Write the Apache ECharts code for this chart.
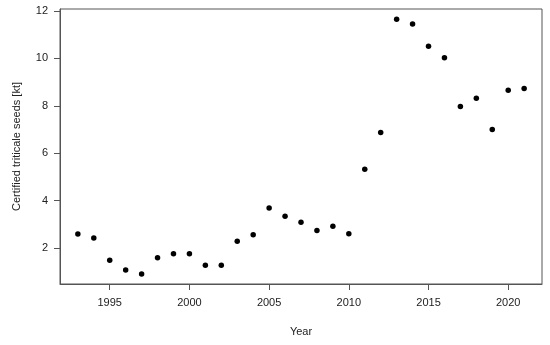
<!DOCTYPE html>
<html>
<head>
<meta charset="utf-8">
<script src="https://cdn.jsdelivr.net/npm/echarts@6/dist/echarts.min.js"></script>
<style>
  html, body { margin: 0; padding: 0; background: #fff; }
  #chart { width: 550px; height: 345px; }
</style>
</head>
<body>
<div id="chart"></div>
<script>
// data
var years = [1993, 1994, 1995, 1996, 1997, 1998, 1999, 2000, 2001, 2002,
             2003, 2004, 2005, 2006, 2007, 2008, 2009, 2010, 2011, 2012,
             2013, 2014, 2015, 2016, 2017, 2018, 2019, 2020, 2021];
var seeds = [2.60, 2.43, 1.49, 1.08, 0.91, 1.60, 1.77, 1.77, 1.28, 1.28,
             2.29, 2.57, 3.69, 3.35, 3.09, 2.75, 2.92, 2.61, 5.33, 6.88,
             11.65, 11.45, 10.51, 10.03, 7.97, 8.32, 7.00, 8.66, 8.73];
var xTicks = [1995, 2000, 2005, 2010, 2015, 2020];
var yTicks = [2, 4, 6, 8, 10, 12];

var points = years.map(function (y, i) { return [y, seeds[i]]; });

var chart = echarts.init(document.getElementById('chart'));
var txt = '#222';
var axisCol = '#555';

var option = {
    animation: false,
    grid: {
        left: 60, top: 9, right: 8, bottom: 61,
        show: true, borderColor: axisCol, borderWidth: 1
    },
    xAxis: {
        type: 'value',
        min: 1991.88, max: 2022.12,
        name: 'Year',
        nameLocation: 'middle',
        nameGap: 42,
        nameTextStyle: { color: txt, fontSize: 11, fontFamily: 'Liberation Sans, Arial' },
        axisLine: { show: true, lineStyle: { color: axisCol } },
        axisTick: { show: true, length: 6, customValues: xTicks, lineStyle: { color: axisCol } },
        axisLabel: {
            customValues: xTicks, margin: 13, color: txt, fontSize: 11,
            fontFamily: 'Liberation Sans, Arial',
            formatter: function (v) { return String(v); }
        },
        splitLine: { show: false }
    },
    yAxis: {
        type: 'value',
        min: 0.49, max: 12.08,
        name: 'Certified triticale seeds [kt]',
        nameLocation: 'middle',
        nameGap: 38,
        nameTextStyle: { color: txt, fontSize: 11, fontFamily: 'Liberation Sans, Arial' },
        axisLine: { show: true, lineStyle: { color: axisCol } },
        axisTick: { show: true, length: 6, customValues: yTicks, lineStyle: { color: axisCol } },
        axisLabel: {
            customValues: yTicks, margin: 12, color: txt, fontSize: 11,
            fontFamily: 'Liberation Sans, Arial',
            formatter: function (v) { return String(v); }
        },
        splitLine: { show: false }
    },
    series: [{
        type: 'scatter',
        data: points,
        symbol: 'circle',
        symbolSize: 5.5,
        itemStyle: { color: '#000', opacity: 1 }
    }]
};
chart.setOption(option);
</script>
</body>
</html>
